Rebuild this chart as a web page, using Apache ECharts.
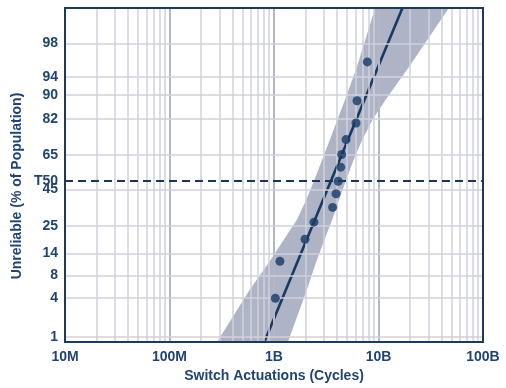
<!DOCTYPE html>
<html><head><meta charset="utf-8">
<script src="https://cdn.jsdelivr.net/npm/echarts@6/dist/echarts.min.js"></script>
<style>html,body{margin:0;padding:0;background:#fff}#c{width:506px;height:388px}</style>
</head><body><div id="c"></div>
<script>
// ---- data ----
const xTickValues = [1e7, 1e8, 1e9, 1e10, 1e11];
const xTickLabels = ['10M', '100M', '1B', '10B', '100B'];
const minorMultipliers = [2, 3, 4, 5, 6, 7, 8, 9];
const yTickPct = [1, 4, 8, 14, 25, 45, 50, 65, 82, 90, 94, 98];
const yTickLabels = ['1', '4', '8', '14', '25', '45', 'T50', '65', '82', '90', '94', '98'];
const failCycles = [1.03e9, 1.14e9, 1.98e9, 2.41e9, 3.64e9, 3.92e9, 4.12e9, 4.35e9, 4.44e9, 4.89e9, 6.09e9, 6.23e9, 7.82e9];
const failPct = [4.0, 11.5, 19.2, 26.9, 34.6, 42.4, 49.8, 58.1, 65.3, 73.1, 80.6, 88.4, 96.2];
const fitCycles = [8.08e8, 1.69e10];
const fitPct = [0.81, 99.5];
const bandPct  = [0.81, 5.3, 11.5, 19.2, 28.0, 39.1, 49.6, 62.0, 73.1, 82.0, 88.7, 95.6, 99.5];
const bandLow  = [2.85e8, 5.9e8, 9.1e8, 1.25e9, 1.65e9, 2.04e9, 2.40e9, 2.87e9, 3.43e9, 4.05e9, 4.78e9, 6.23e9, 9.27e9];
const bandHigh = [1.36e9, 2.07e9, 2.55e9, 3.05e9, 3.60e9, 4.20e9, 4.85e9, 5.75e9, 7.00e9, 8.80e9, 1.17e10, 1.97e10, 4.70e10];

// normal probability transform (axis scale)
function probit(p) {
  const a=[-3.969683028665376e+01,2.209460984245205e+02,-2.759285104469687e+02,1.383577518672690e+02,-3.066479806614716e+01,2.506628277459239e+00];
  const b=[-5.447609879822406e+01,1.615858368580409e+02,-1.556989798598866e+02,6.680131188771972e+01,-1.328068155288572e+01];
  const c=[-7.784894002430293e-03,-3.223964580411365e-01,-2.400758277161838e+00,-2.549732539343734e+00,4.374664141464968e+00,2.938163982698783e+00];
  const d=[7.784695709041462e-03,3.224671290700398e-01,2.445134137142996e+00,3.754408661907416e+00];
  const pl=0.02425, ph=1-pl; let q, r;
  if (p < pl) { q=Math.sqrt(-2*Math.log(p)); return (((((c[0]*q+c[1])*q+c[2])*q+c[3])*q+c[4])*q+c[5])/((((d[0]*q+d[1])*q+d[2])*q+d[3])*q+1); }
  if (p <= ph) { q=p-0.5; r=q*q; return (((((a[0]*r+a[1])*r+a[2])*r+a[3])*r+a[4])*r+a[5])*q/(((((b[0]*r+b[1])*r+b[2])*r+b[3])*r+b[4])*r+1); }
  q=Math.sqrt(-2*Math.log(1-p)); return -(((((c[0]*q+c[1])*q+c[2])*q+c[3])*q+c[4])*q+c[5])/((((d[0]*q+d[1])*q+d[2])*q+d[3])*q+1);
}
const z = p => probit(p / 100);

const NAVY = '#1f4373';
const GRID = '#d0d1db';
const GRID_MAJOR = '#b5b6c4';

const yTickZ = yTickPct.map(z);
const vLines = [];
xTickValues.slice(0, -1).forEach(d => minorMultipliers.forEach(m => vLines.push({ xAxis: d * m, lineStyle: { color: GRID, width: 1.5, type: 'solid' } })));
xTickValues.slice(1, -1).forEach(d => vLines.push({ xAxis: d, lineStyle: { color: GRID_MAJOR, width: 2, type: 'solid' } }));
const hLines = [];
yTickPct.forEach((p, i) => { if (yTickLabels[i] !== 'T50') hLines.push({ yAxis: z(p), lineStyle: { color: GRID, width: 1.5, type: 'solid' } }); });

const chart = echarts.init(document.getElementById('c'), null, { renderer: 'canvas' });
chart.setOption({
  animation: false,
  grid: { left: 65, top: 8, right: 23, bottom: 45, show: true, borderColor: '#1d3a5c', borderWidth: 2, z: 10 },
  xAxis: {
    type: 'log', min: 1e7, max: 1e11, logBase: 10,
    name: 'Switch Actuations (Cycles)', nameLocation: 'middle', nameGap: 26,
    nameTextStyle: { color: NAVY, fontSize: 14, fontWeight: 'bold', fontFamily: 'Liberation Sans, Arial, sans-serif' },
    axisLine: { show: false }, axisTick: { show: false }, splitLine: { show: false }, minorSplitLine: { show: false },
    axisLabel: {
      margin: 8, color: NAVY, fontSize: 14, fontWeight: 'bold', fontFamily: 'Liberation Sans, Arial, sans-serif',
      customValues: xTickValues,
      formatter: v => { let bi = 0; xTickValues.forEach((t, i) => { if (Math.abs(Math.log10(t) - Math.log10(v)) < Math.abs(Math.log10(xTickValues[bi]) - Math.log10(v))) bi = i; }); return xTickLabels[bi]; }
    }
  },
  yAxis: {
    type: 'value', min: -2.405, max: 2.579,
    axisLine: { show: false }, axisTick: { show: false }, splitLine: { show: false },
    axisLabel: {
      margin: 7, color: NAVY, fontSize: 14, fontWeight: 'bold', fontFamily: 'Liberation Sans, Arial, sans-serif',
      customValues: yTickZ,
      formatter: v => { let bi = 0; yTickZ.forEach((t, i) => { if (Math.abs(t - v) < Math.abs(yTickZ[bi] - v)) bi = i; }); return yTickLabels[bi]; }
    }
  },
  graphic: [{
    type: 'text', x: 17, y: 186, rotation: Math.PI / 2, silent: true,
    style: { text: 'Unreliable (% of Population)', fill: NAVY, font: 'bold 14px "Liberation Sans", Arial, sans-serif', textAlign: 'center', textVerticalAlign: 'middle', align: 'center', verticalAlign: 'middle' }
  }],
  series: [
    { type: 'line', data: [], z: 1, silent: true,
      markLine: { silent: true, symbol: 'none', label: { show: false }, animation: false, data: vLines.concat(hLines) } },
    { type: 'custom', z: 2, silent: true, data: [[bandLow[0], z(bandPct[0])]],
      renderItem: (params, api) => {
        const pts = [];
        for (let i = 0; i < bandPct.length; i++) pts.push(api.coord([bandLow[i], z(bandPct[i])]));
        for (let i = bandPct.length - 1; i >= 0; i--) pts.push(api.coord([bandHigh[i], z(bandPct[i])]));
        return { type: 'polygon', shape: { points: pts, smooth: 0 }, style: { fill: 'rgba(110,116,152,0.55)' } };
      } },
    { type: 'line', data: [], z: 3, silent: true,
      markLine: { silent: true, symbol: 'none', label: { show: false }, animation: false,
        data: [{ yAxis: z(50), lineStyle: { color: '#1b3558', width: 2, type: [8, 5] } }] } },
    { type: 'line', z: 4, silent: true, symbol: 'none', data: fitCycles.map((c, i) => [c, z(fitPct[i])]),
      lineStyle: { color: '#173a63', width: 2.6 } },
    { type: 'scatter', z: 5, silent: true, symbol: 'circle', symbolSize: 9,
      data: failCycles.map((c, i) => [c, z(failPct[i])]), itemStyle: { color: '#173a66' } }
  ]
});
</script></body></html>
